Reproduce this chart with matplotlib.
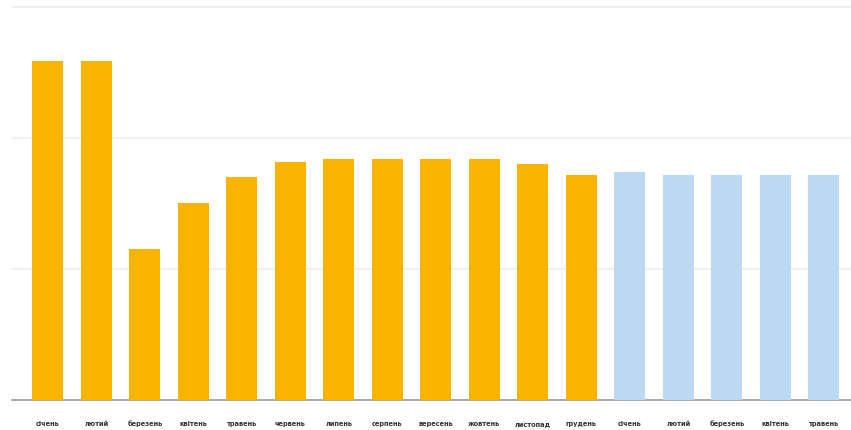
import matplotlib.pyplot as plt
import numpy as np

# Months (Ukrainian), actual vs forecast
months = ["січень", "лютий", "березень", "квітень", "травень", "червень",
          "липень", "серпень", "вересень", "жовтень", "листопад", "грудень",
          "січень", "лютий", "березень", "квітень", "травень"]
actual = [2.59, 2.59, 1.15, 1.50, 1.70, 1.82, 1.84, 1.84, 1.84, 1.84, 1.80, 1.72]
forecast = [1.74, 1.72, 1.72, 1.72, 1.72]

orange = "#F9B400"
blue = "#BDD8F3"

fig = plt.figure(figsize=(8.51, 4.30), dpi=100)
ax = fig.add_axes([12 / 851, 30 / 430, 839 / 851, 395 / 430])

x = np.arange(len(months))
n_act = len(actual)
ax.bar(x[:n_act], actual, width=0.64, color=orange, zorder=3)
ax.bar(x[n_act:], forecast, width=0.64, color=blue, zorder=3)

ax.set_xlim(-0.74, 16.56)
ax.set_ylim(0, 3.015)
ax.set_yticks([1, 2, 3])
ax.yaxis.grid(True, color="#ececec", linewidth=1.2, zorder=0)
ax.tick_params(axis="y", left=False, labelleft=False)

ax.set_xticks(x)
ax.set_xticklabels(months, fontsize=4.8, color="#333333", fontweight="bold")
ax.tick_params(axis="x", length=0, pad=15)

for s in ["top", "right", "left"]:
    ax.spines[s].set_visible(False)
ax.spines["bottom"].set_color("#999999")
ax.spines["bottom"].set_linewidth(1.2)

plt.savefig("out.png", dpi=100)
